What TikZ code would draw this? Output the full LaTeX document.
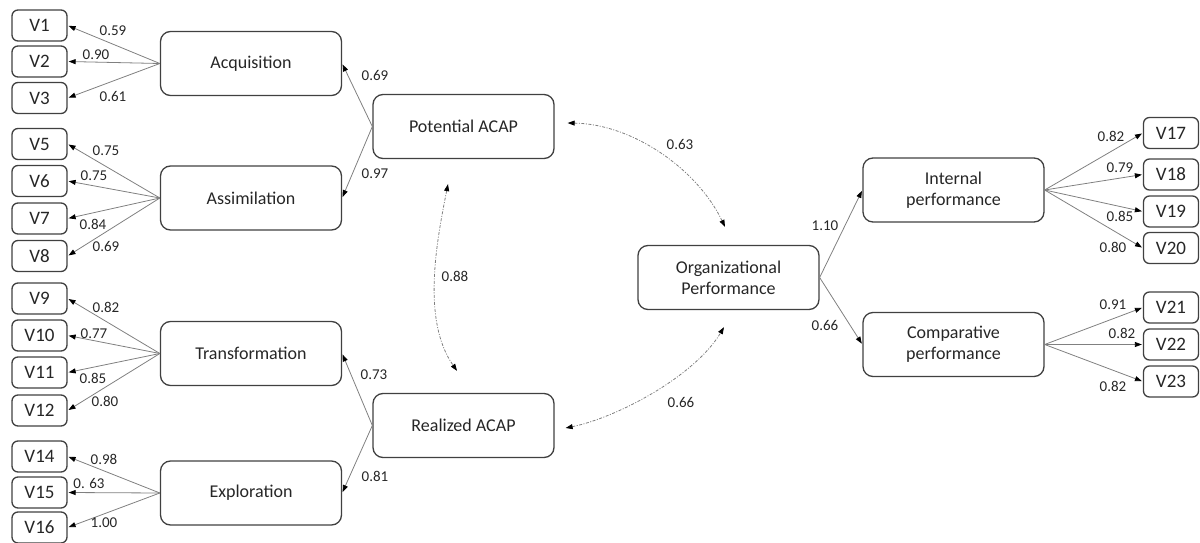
\documentclass[tikz,border=0pt]{standalone}
\usepackage{fontspec}
\setmainfont{Carlito}
\usetikzlibrary{arrows.meta,calc}
\definecolor{bd}{HTML}{404040}
\definecolor{ln}{HTML}{808080}
\definecolor{tx}{HTML}{262626}
\begin{document}
\begin{tikzpicture}[x=1pt,y=-1pt,
 lat/.style={draw=bd, line width=1.3pt, rounded corners=10pt, minimum width=181pt, minimum height=64pt, font=\fontsize{18}{21}\selectfont, text=tx, align=center, inner sep=0pt},
 obs/.style={draw=bd, line width=1.3pt, rounded corners=6pt, minimum width=55pt, minimum height=31pt, font=\fontsize{19}{22}\selectfont, text=tx, inner sep=0pt},
 tipb/.tip={Triangle[length=7pt,width=5pt,color=black]},
 ld/.style={draw=ln, line width=0.8pt, -tipb, shorten >=1pt},
 cov/.style={draw=ln, line width=0.8pt, dash pattern=on 3pt off 1.5pt on 1pt off 1.5pt, tipb-tipb},
 lbl/.style={font=\fontsize{15}{18}\selectfont, text=tx, inner sep=0pt}
]
\useasboundingbox (0,0) rectangle (1200,543);
% left observed
\foreach \n/\y in {1/25.5,2/61.5,3/98,5/144,6/181,7/218.5,8/256,9/298.5,10/335.5,11/372.5,12/410.5,14/456.5,15/492.5,16/527.5}
  \node[obs] (v\n) at (39.5,\y) {V\n};
% right observed
\foreach \n/\y in {17/133,18/174.5,19/211.5,20/248,21/307.5,22/344.5,23/381.5}
  \node[obs] (v\n) at (1171,\y) {V\n};
% latent
\node[lat] (acq) at (251,63.5) {Acquisition};
\node[lat] (ass) at (251,198) {Assimilation};
\node[lat] (tra) at (251,353.5) {Transformation};
\node[lat] (exp) at (251,493) {Exploration};
\node[lat] (pot) at (463.5,126.5) {Potential ACAP};
\node[lat] (rea) at (463.5,425.5) {Realized ACAP};
\node[lat] (org) at (728.5,277.5) {Organizational\\Performance};
\node[lat] (int) at (953.5,190) {Internal\\performance};
\node[lat] (com) at (953.5,344.5) {Comparative\\performance};
% loadings
\foreach \a/\b in {acq/v1,acq/v2,acq/v3,ass/v5,ass/v6,ass/v7,ass/v8,tra/v9,tra/v10,tra/v11,tra/v12,exp/v14,exp/v15,exp/v16}
  \draw[ld] (\a.west) -- (\b.east);
\foreach \a/\b in {pot/acq,pot/ass,rea/tra,rea/exp}
  \draw[ld] (\a.west) -- (\b.east);
\foreach \a/\b in {org/int,org/com}
  \draw[ld] (\a.east) -- (\b.west);
\foreach \a/\b in {int/v17,int/v18,int/v19,int/v20,com/v21,com/v22,com/v23}
  \draw[ld] (\a.east) -- (\b.west);
% covariances
\coordinate (c1s) at ($(pot.east)+(13,-3.5)$);
\coordinate (c1e) at ($(org.north)+(-3.5,-18)$);
\coordinate (c2s) at ($(pot.south)+(-15.5,25)$);
\coordinate (c2e) at ($(rea.north)+(-6.5,-22)$);
\coordinate (c3s) at ($(rea.east)+(11,2.5)$);
\coordinate (c3e) at ($(org.south)+(-4.5,17)$);
\draw[cov] (c1s) .. controls +(65,1) and +(-28,-58) .. (c1e);
\draw[cov] (c2s) .. controls +(-12,60) and +(-35,-50) .. (c2e);
\draw[cov] (c3s) .. controls +(50,-10) and +(-30,50) .. (c3e);
% labels
\node[lbl] at (113,31) {0.59};
\node[lbl] at (96,55) {0.90};
\node[lbl] at (113,96) {0.61};
\node[lbl] at (106,151) {0.75};
\node[lbl] at (94,176) {0.75};
\node[lbl] at (93,224) {0.84};
\node[lbl] at (106,246) {0.69};
\node[lbl] at (106,307) {0.82};
\node[lbl] at (94,334) {0.77};
\node[lbl] at (93,378) {0.85};
\node[lbl] at (105,401) {0.80};
\node[lbl] at (104,459) {0.98};
\node[lbl] at (89,483) {0. 63};
\node[lbl] at (104,523) {1.00};
\node[lbl] at (375,75) {0.69};
\node[lbl] at (375,174) {0.97};
\node[lbl] at (374,375) {0.73};
\node[lbl] at (375,476) {0.81};
\node[lbl] at (455,276) {0.88};
\node[lbl] at (680,144) {0.63};
\node[lbl] at (681,402) {0.66};
\node[lbl] at (825,226) {1.10};
\node[lbl] at (825,325) {0.66};
\node[lbl] at (1111,136) {0.82};
\node[lbl] at (1120,168) {0.79};
\node[lbl] at (1120,216) {0.85};
\node[lbl] at (1113,247) {0.80};
\node[lbl] at (1113,305) {0.91};
\node[lbl] at (1122,333) {0.82};
\node[lbl] at (1113,386) {0.82};
\end{tikzpicture}
\end{document}
